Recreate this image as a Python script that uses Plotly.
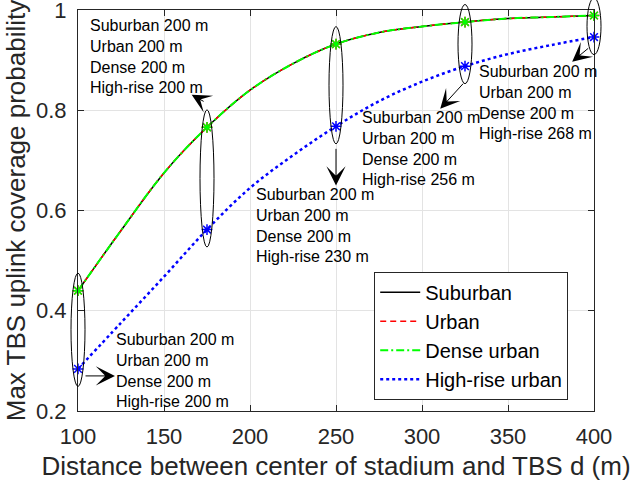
import plotly.graph_objs as go

# distance between stadium centre and TBS (m)
dist = [100, 125, 150, 175, 200, 225, 250, 275, 300, 325, 350, 375, 400]

suburban = [0.440, 0.560, 0.675, 0.766, 0.840, 0.893, 0.932, 0.955, 0.967, 0.976, 0.983, 0.986, 0.989]
urban = [0.440, 0.560, 0.675, 0.766, 0.840, 0.893, 0.932, 0.955, 0.967, 0.976, 0.983, 0.986, 0.989]
dense = [0.440, 0.560, 0.675, 0.766, 0.840, 0.893, 0.932, 0.955, 0.967, 0.976, 0.983, 0.986, 0.989]
highrise = [0.284, 0.376, 0.468, 0.562, 0.645, 0.710, 0.768, 0.818, 0.857, 0.888, 0.912, 0.930, 0.946]

# points where the optimal altitudes are marked
marked = [0, 3, 6, 9, 12]
heights = {
    175: ["200", "200", "200", "200"],
    250: ["200", "200", "200", "230"],
    325: ["200", "200", "200", "256"],
    400: ["200", "200", "200", "268"],
    100: ["200", "200", "200", "200"],
}

FONT = "Liberation Sans, Arial, sans-serif"
AX = "#262626"
X_RANGE = [100, 400]
Y_RANGE = [0.2, 1]

fig = go.Figure()

series = [
    ("Suburban", suburban, "#000000", "solid", 1.5),
    ("Urban", urban, "#ff0000", "6px,4px", 1.5),
    ("Dense urban", dense, "#00ff00", "8px,3px,2px,3px", 2),
    ("High-rise urban", highrise, "#0000ff", "dot", 2.5),
]

for name, vals, col, dash, w in series:
    fig.add_trace(go.Scatter(
        x=dist, y=vals, name=name, mode="lines", line_shape="spline",
        line=dict(color=col, dash=dash, width=w)))

for name, vals, col, dash, w in series[1:]:
    fig.add_trace(go.Scatter(
        x=[dist[i] for i in marked], y=[vals[i] for i in marked],
        mode="markers", showlegend=False, hoverinfo="skip", cliponaxis=False,
        marker=dict(symbol="asterisk-open", size=9, color=col,
                    line=dict(color=col, width=1.5))))


def frac(v, r):
    # position as a fraction of the plot area (paper ref, so shapes aren't clipped)
    return (v - r[0]) / (r[1] - r[0])


# ellipses round each group of marked points
for i in marked:
    top = max(suburban[i], urban[i], dense[i], highrise[i])
    bot = min(suburban[i], urban[i], dense[i], highrise[i])
    fig.add_shape(type="circle", xref="paper", yref="paper", xsizemode="pixel",
                  xanchor=frac(dist[i], X_RANGE), x0=-7, x1=7,
                  y0=frac(bot - 0.035, Y_RANGE), y1=frac(top + 0.035, Y_RANGE),
                  line=dict(color="#000000", width=1))


def label(h):
    names = ["Suburban", "Urban", "Dense", "High-rise"]
    return "<br>".join(f"{n} {v} m" for n, v in zip(names, h))


# text blocks: (key, x, y)
blocks = [(175, 105.8, 0.907), (250, 202.2, 0.570), (325, 263.8, 0.723),
          (400, 332.1, 0.816), (100, 120.9, 0.281)]
for k, x, y in blocks:
    fig.add_annotation(x=x, y=y, xref="x", yref="y", text=label(heights[k]),
                       showarrow=False, xanchor="left", yanchor="middle", align="left",
                       font=dict(family=FONT, size=16, color="#000000"))

# arrows: head (x, y) and tail (ax, ay)
arrows = [(166.1, 0.831, 173.9, 0.816), (250, 0.650, 250, 0.726),
          (310.6, 0.803, 324.7, 0.856), (387.3, 0.897, 397.5, 0.926),
          (121.5, 0.270, 103.5, 0.270)]
for x, y, ax, ay in arrows:
    fig.add_annotation(x=x, y=y, ax=ax, ay=ay, xref="x", yref="y", axref="x", ayref="y",
                       text="", showarrow=True, arrowhead=3, arrowsize=3.2,
                       arrowwidth=1, arrowcolor="#000000", standoff=0)

axis_style = dict(showline=True, linecolor=AX, linewidth=1, mirror="ticks",
                  ticks="inside", ticklen=6, tickcolor=AX, showgrid=True,
                  gridcolor="#e3e3e3", gridwidth=1, zeroline=False,
                  ticklabeloverflow="allow",
                  tickfont=dict(family=FONT, size=22, color=AX))

fig.update_xaxes(range=X_RANGE, tickvals=[100, 150, 200, 250, 300, 350, 400],
                 title=dict(text="Distance between center of stadium and TBS d (m)",
                            font=dict(family=FONT, size=26, color=AX), standoff=8),
                 ticklabelstandoff=6, **axis_style)
fig.update_yaxes(range=Y_RANGE, tickvals=[0.2, 0.4, 0.6, 0.8, 1],
                 ticktext=["0.2", "0.4", "0.6", "0.8", "1"],
                 title=dict(text="Max TBS uplink coverage probability",
                            font=dict(family=FONT, size=26, color=AX), standoff=2),
                 ticklabelstandoff=6, **axis_style)

fig.update_layout(
    width=630, height=486,
    margin=dict(l=78, r=36, t=10, b=75, autoexpand=False),
    plot_bgcolor="white", paper_bgcolor="white",
    legend=dict(x=0.95, y=0.028, xanchor="right", yanchor="bottom",
                bgcolor="white", bordercolor=AX, borderwidth=1,
                font=dict(family=FONT, size=20, color="#000000"),
                itemwidth=40, tracegroupgap=0),
    showlegend=True,
)

fig.write_html("out.html", config={"displayModeBar": False},
               post_script="document.body.style.margin='0';")
